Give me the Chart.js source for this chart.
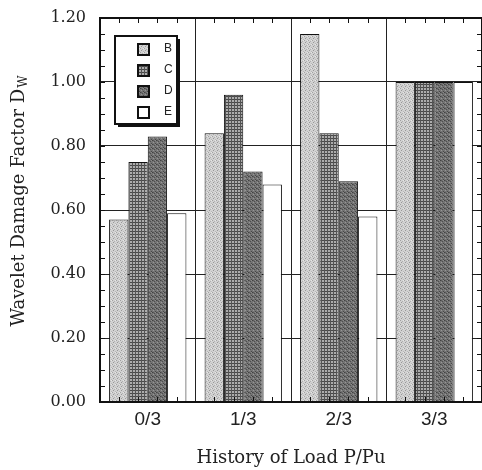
<!DOCTYPE html>
<html>
<head>
<meta charset="utf-8">
<script src="https://cdn.jsdelivr.net/npm/chart.js@4/dist/chart.umd.min.js"></script>
<style>
  html, body { margin: 0; padding: 0; background: #fff; }
  #wrap { width: 482px; height: 470px; }
</style>
</head>
<body>
<div id="wrap"><canvas id="grafica" width="482" height="470"></canvas></div>
<script>
// datos
const categorias = ['0/3', '1/3', '2/3', '3/3'];
const nombres    = ['B', 'C', 'D', 'E'];
const serieB     = [0.57, 0.84, 1.15, 1.00];
const serieC     = [0.75, 0.96, 0.84, 1.00];
const serieD     = [0.83, 0.72, 0.69, 1.00];
const serieE     = [0.59, 0.68, 0.58, 1.00];
const ticksY     = [0, 0.2, 0.4, 0.6, 0.8, 1.0, 1.2];
const pasoMenorY = 0.05;

const tituloY   = 'Wavelet Damage Factor D';
const subY      = 'W';
const tituloX   = 'History of Load P/Pu';

// texturas de las barras
function patron(tam, base, puntos) {
  const c = document.createElement('canvas');
  c.width = tam; c.height = tam;
  const g = c.getContext('2d');
  g.fillStyle = base;
  g.fillRect(0, 0, tam, tam);
  puntos.forEach(p => {
    g.fillStyle = p[2];
    g.fillRect(p[0], p[1], p[3] || 1, p[4] || 1);
  });
  return g.createPattern(c, 'repeat');
}

const ctx = document.getElementById('grafica').getContext('2d');

const rellenoB = patron(4, '#d2d2d2', [
  [0, 0, '#a2a2a2'], [2, 1, '#b0b0b0'], [1, 2, '#989898'], [3, 3, '#b8b8b8'], [3, 0, '#e6e6e6']
]);
const rellenoC = patron(3, '#acacac', [
  [0, 0, '#484848', 3, 1], [0, 0, '#545454', 1, 3]
]);
const rellenoD = patron(4, '#747474', [
  [0, 0, '#424242'], [2, 1, '#4e4e4e'], [1, 2, '#969696'], [3, 3, '#484848'], [3, 0, '#8a8a8a'], [1, 0, '#5a5a5a']
]);
const rellenoE = '#ffffff';

const rellenos = [rellenoB, rellenoC, rellenoD, rellenoE];
const series   = [serieB, serieC, serieD, serieE];

const decoracion = {
  id: 'decoracion',
  afterDatasetsDraw(chart) {
    const c = chart.ctx;
    const a = chart.chartArea;
    const y = chart.scales.y;
    c.save();
    c.strokeStyle = '#111';

    // marcas menores del eje Y (izquierda y derecha)
    c.lineWidth = 1;
    for (let v = 0; v <= 1.2 + 1e-9; v += pasoMenorY) {
      const py = Math.round(y.getPixelForValue(v)) + 0.5;
      c.beginPath();
      c.moveTo(a.left, py);  c.lineTo(a.left + 5, py);
      c.moveTo(a.right, py); c.lineTo(a.right - 5, py);
      c.stroke();
    }

    // marcas del eje X en el centro de cada barra
    chart.data.datasets.forEach((ds, i) => {
      chart.getDatasetMeta(i).data.forEach(bar => {
        const px = Math.round(bar.x) + 0.5;
        c.beginPath();
        c.moveTo(px, a.bottom); c.lineTo(px, a.bottom - 5);
        c.moveTo(px, a.top);    c.lineTo(px, a.top + 5);
        c.stroke();
      });
    });

    // marco
    c.lineWidth = 2;
    c.strokeRect(a.left, a.top, a.right - a.left, a.bottom - a.top);
    c.restore();
  },
  afterDraw(chart) {
    const c = chart.ctx;
    const a = chart.chartArea;
    c.save();

    // leyenda con sombra
    const lx = a.left + 15, ly = a.top + 18, lw = 62, lh = 88;
    c.fillStyle = '#111';
    c.fillRect(lx + 3, ly + 3, lw, lh);
    c.fillStyle = '#fff';
    c.fillRect(lx, ly, lw, lh);
    c.strokeStyle = '#111';
    c.lineWidth = 2;
    c.strokeRect(lx, ly, lw, lh);

    c.font = '12px "Liberation Sans"';
    c.textBaseline = 'middle';
    chart.data.datasets.forEach((ds, i) => {
      const fy = ly + 13 + i * 21;
      c.fillStyle = ds.backgroundColor;
      c.fillRect(lx + 23, fy - 5, 11, 11);
      c.lineWidth = 2;
      c.strokeStyle = '#111';
      c.strokeRect(lx + 23, fy - 5, 11, 11);
      c.fillStyle = '#222';
      c.fillText(ds.label, lx + 49, fy);
    });

    // titulo eje Y con subindice
    c.fillStyle = '#222';
    c.font = '18px "DejaVu Serif"';
    const anchoPrincipal = c.measureText(tituloY).width;
    c.font = '12px "DejaVu Serif"';
    const anchoSub = c.measureText(subY).width;
    c.translate(19, 201);
    c.rotate(-Math.PI / 2);
    const x0 = -(anchoPrincipal + anchoSub + 1) / 2;
    c.textAlign = 'left';
    c.textBaseline = 'middle';
    c.font = '18px "DejaVu Serif"';
    c.fillText(tituloY, x0, 0);
    c.font = '12px "DejaVu Serif"';
    c.fillText(subY, x0 + anchoPrincipal + 1, 5);
    c.restore();

    // titulo eje X
    c.save();
    c.fillStyle = '#222';
    c.font = '18px "DejaVu Serif"';
    c.textAlign = 'center';
    c.textBaseline = 'middle';
    c.fillText(tituloX, (a.left + a.right) / 2, 458);
    c.restore();
  }
};

const grafica = new Chart(ctx, {
  type: 'bar',
  data: {
    labels: categorias,
    datasets: series.map((s, i) => ({
      label: nombres[i],
      data: s,
      backgroundColor: rellenos[i],
      borderColor: '#111',
      borderWidth: 1,
      borderSkipped: 'start',
      categoryPercentage: 0.81,
      barPercentage: 1.0
    }))
  },
  options: {
    responsive: false,
    animation: false,
    layout: { padding: { top: 18, right: -3, left: 0, bottom: 0 } },
    plugins: {
      legend:  { display: false },
      tooltip: { enabled: false }
    },
    scales: {
      x: {
        offset: true,
        grid:   { offset: true, color: '#222', lineWidth: 1, drawTicks: false },
        border: { display: true, color: '#111', width: 2 },
        ticks:  { color: '#222', padding: 6, font: { family: 'Liberation Sans', size: 19 } },
        afterFit: s => { s.height = 68; }
      },
      y: {
        min: 0,
        max: 1.2,
        afterBuildTicks: s => { s.ticks = ticksY.map(v => ({ value: v })); },
        grid:   { color: '#222', lineWidth: 1, drawTicks: false },
        border: { display: true, color: '#111', width: 2 },
        ticks:  {
          color: '#222',
          padding: 14,
          font: { family: 'DejaVu Serif', size: 16 },
          callback: v => Number(v).toFixed(2)
        },
        afterFit: s => { s.width = 100; s.paddingTop = 0; s.paddingBottom = 0; }
      }
    }
  },
  plugins: [decoracion]
});
</script>
</body>
</html>
